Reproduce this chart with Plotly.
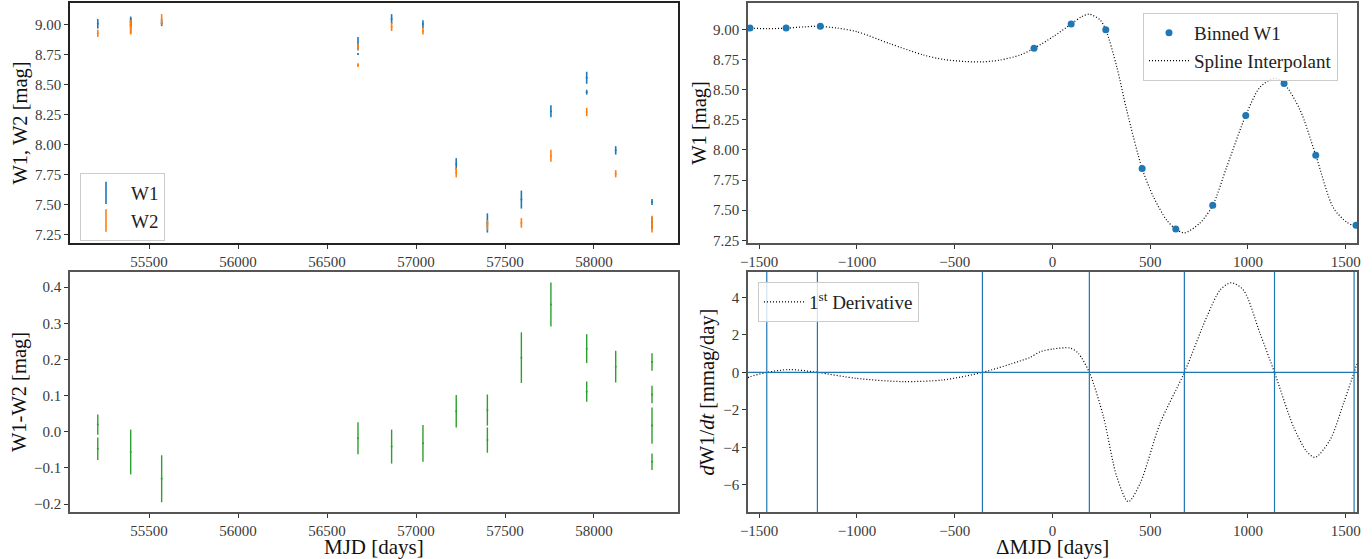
import plotly.graph_objects as go

# ---------------- data ----------------
# Top-left: single-exposure W1 / W2 magnitudes (segments per epoch)
w1_mjd = [55212, 55397, 55397, 55571, 56674, 56674, 56863, 57039, 57226, 57401,
          57592, 57758, 57959, 57959, 58122, 58326, 58326]
w1_mag = [9.01, 9.00, 9.025, 9.015, 8.845, 8.757, 9.05, 9.007, 7.84, 7.35,
          7.545, 8.28, 8.56, 8.44, 7.955, 7.525, 7.35]
w1_err = [0.04, 0.07, 0.035, 0.025, 0.055, 0.006, 0.04, 0.033, 0.05, 0.08,
          0.075, 0.05, 0.05, 0.02, 0.035, 0.025, 0.05]

w2_mjd = [55212, 55397, 55571, 56674, 56674, 56863, 57039, 57226, 57401, 57592,
          57758, 57959, 58122, 58326]
w2_mag = [8.93, 8.98, 9.045, 8.82, 8.665, 8.985, 8.948, 7.77, 7.332, 7.35,
          7.91, 8.275, 7.76, 7.34]
w2_err = [0.03, 0.06, 0.045, 0.03, 0.015, 0.035, 0.028, 0.04, 0.043, 0.04,
          0.05, 0.035, 0.03, 0.07]

# Bottom-left: W1-W2 colour
col_mjd = [55212, 55212, 55397, 55571, 56674, 56863, 57039, 57226, 57401, 57401,
           57592, 57758, 57959, 57959, 58122, 58326, 58326, 58326, 58326]
col_val = [0.02, -0.047, -0.056, -0.13, -0.018, -0.041, -0.032, 0.057, 0.06, -0.023,
           0.205, 0.352, 0.23, 0.111, 0.18, 0.193, 0.103, 0.017, -0.083]
col_err = [0.028, 0.031, 0.062, 0.065, 0.044, 0.047, 0.051, 0.045, 0.043, 0.035,
           0.07, 0.061, 0.04, 0.028, 0.044, 0.024, 0.024, 0.05, 0.023]

# Top-right: binned W1 vs ΔMJD
bin_dmjd = [-1547, -1362, -1187, -94, 96, 273, 459, 631, 820, 989, 1185, 1347, 1553]
bin_mag = [9.01, 9.01, 9.025, 8.842, 9.044, 8.997, 7.845, 7.344, 7.54, 8.286, 8.55, 7.956, 7.375]
bin_err = [0.006, 0.006, 0.006, 0.006, 0.006, 0.006, 0.006, 0.006, 0.006, 0.006, 0.006, 0.006, 0.006]

# Spline interpolant
spl_dmjd = [-1557, -1547, -1461, -1362, -1270, -1202, -1100, -1000, -830, -660, -557,
            -450, -358, -268, -165, -94, 5, 96, 150, 189, 244, 273, 329, 380, 459,
            517, 585, 631, 675, 755, 820, 892, 989, 1062, 1136, 1185, 1267, 1347,
            1437, 1506, 1543, 1557]
spl_mag = [9.01, 9.01, 9.005, 9.01, 9.02, 9.025, 9.01, 8.98, 8.88, 8.787, 8.75,
           8.733, 8.73, 8.745, 8.787, 8.842, 8.94, 9.044, 9.105, 9.125, 9.077, 8.997,
           8.69, 8.33, 7.845, 7.61, 7.416, 7.344, 7.312, 7.394, 7.54, 7.86, 8.286,
           8.52, 8.593, 8.55, 8.33, 7.956, 7.52, 7.40, 7.372, 7.375]

# Bottom-right: first derivative (mmag/day)
der_dmjd = [-1557, -1547, -1461, -1342, -1202, -1000, -763, -558, -358, -165, -114,
            -63, 4, 90, 132, 189, 261, 329, 388, 449, 551, 675, 790, 858, 914, 977,
            1062, 1136, 1233, 1301, 1344, 1420, 1489, 1543, 1557]
der_val = [-0.28, -0.23, 0.0, 0.15, 0.0, -0.32, -0.49, -0.40, 0.0, 0.61, 0.80,
           1.10, 1.25, 1.30, 1.02, 0.0, -2.36, -5.55, -6.89, -5.91, -2.71, 0.0, 2.97,
           4.39, 4.78, 4.39, 2.08, 0.0, -2.89, -4.22, -4.53, -3.6, -1.65, 0.0, 0.45]

# zero crossings of the derivative (vertical lines)
zero_dmjd = [-1461, -1202, -358, 189, 675, 1136, 1543]

C1, C2, C3 = "#1f77b4", "#ff7f0e", "#2ca02c"
FONT = "Liberation Serif"

fig = go.Figure()

# TL
fig.add_trace(go.Scatter(x=w1_mjd, y=w1_mag, mode="markers", xaxis="x", yaxis="y",
                         marker=dict(size=2, color=C1),
                         error_y=dict(type="data", array=w1_err, color=C1, thickness=1.6, width=0),
                         showlegend=False))
fig.add_trace(go.Scatter(x=w2_mjd, y=w2_mag, mode="markers", xaxis="x", yaxis="y",
                         marker=dict(size=2, color=C2),
                         error_y=dict(type="data", array=w2_err, color=C2, thickness=1.6, width=0),
                         showlegend=False))
fig.add_trace(go.Scatter(x=[None], y=[None], mode="markers", xaxis="x", yaxis="y", name="W1",
                         marker=dict(symbol="line-ns-open", size=20, color=C1, line=dict(color=C1, width=1.6)),
                         legend="legend"))
fig.add_trace(go.Scatter(x=[None], y=[None], mode="markers", xaxis="x", yaxis="y", name="W2",
                         marker=dict(symbol="line-ns-open", size=20, color=C2, line=dict(color=C2, width=1.6)),
                         legend="legend"))

# BL
fig.add_trace(go.Scatter(x=col_mjd, y=col_val, mode="markers", xaxis="x2", yaxis="y2",
                         marker=dict(size=2, color=C3),
                         error_y=dict(type="data", array=col_err, color=C3, thickness=1.4, width=0),
                         showlegend=False))

# TR
fig.add_trace(go.Scatter(x=spl_dmjd, y=spl_mag, mode="lines", xaxis="x3", yaxis="y3",
                         name="Spline Interpolant", legendrank=2,
                         line=dict(color="black", width=1.2, dash="1px,2px", shape="spline", smoothing=0.8),
                         legend="legend2"))
fig.add_trace(go.Scatter(x=bin_dmjd, y=bin_mag, mode="markers", xaxis="x3", yaxis="y3",
                         name="Binned W1", legendrank=1,
                         marker=dict(size=7, color=C1),
                         error_y=dict(type="data", array=bin_err, color=C1, thickness=1.5, width=0),
                         legend="legend2"))

# BR
fig.add_trace(go.Scatter(x=der_dmjd, y=der_val, mode="lines", xaxis="x4", yaxis="y4",
                         name="1<sup>st</sup> Derivative",
                         line=dict(color="black", width=1.2, dash="1px,2px", shape="spline", smoothing=0.8),
                         legend="legend3"))

shapes = []
for z in zero_dmjd:
    shapes.append(dict(type="line", xref="x4", yref="y4 domain", x0=z, x1=z, y0=0, y1=1,
                       line=dict(color=C1, width=1.2)))
shapes.append(dict(type="line", xref="x4 domain", yref="y4", x0=0, x1=1, y0=0, y1=0,
                   line=dict(color=C1, width=1.2)))

W, H = 1372, 559
def px(x): return x / W
def py(y): return 1 - y / H

tickfont = dict(family=FONT, size=15, color="#3a3a3a")
ytitlefont = dict(family=FONT, size=20.5, color="#111")
xtitlefont = dict(family=FONT, size=21, color="#111")

def ax(domain, rng, **kw):
    d = dict(domain=domain, range=rng, showgrid=False, zeroline=False, showline=True,
             linecolor="#555", linewidth=1.5, mirror=True, ticks="outside", ticklen=4,
             tickcolor="#333", tickwidth=1, tickfont=tickfont, automargin=False)
    d.update(kw)
    return d

xL = [px(70), px(678)]
xR = [px(748), px(1357)]
yT = [py(243), py(3)]
yB = [py(512), py(272)]

annotations = [
    dict(text="MJD [days]", xref="paper", yref="paper", x=(xL[0] + xL[1]) / 2, y=py(547),
         xanchor="center", yanchor="middle", showarrow=False, font=xtitlefont),
    dict(text="ΔMJD [days]", xref="paper", yref="paper", x=(xR[0] + xR[1]) / 2, y=py(547),
         xanchor="center", yanchor="middle", showarrow=False, font=xtitlefont),
]

fig.update_layout(
    width=W, height=H, margin=dict(l=0, r=0, t=0, b=0),
    paper_bgcolor="white", plot_bgcolor="white",
    font=dict(family=FONT, color="#222"),
    shapes=shapes, annotations=annotations,
    xaxis=ax(xL, [55056, 58472], anchor="y", tickmode="linear", tick0=55500, dtick=500,
             tickformat="d", linecolor="#222"),
    yaxis=ax(yT, [7.183, 9.183], anchor="x", tickmode="linear", tick0=7.25, dtick=0.25,
             tickformat=".2f", linecolor="#222",
             title=dict(text="W1, W2 [mag]", font=ytitlefont, standoff=2)),
    xaxis2=ax(xL, [55056, 58472], anchor="y2", tickmode="linear", tick0=55500, dtick=500, tickformat="d"),
    yaxis2=ax(yB, [-0.222, 0.442], anchor="x2", tickmode="linear", tick0=0, dtick=0.1,
              tickformat=".1f",
              title=dict(text="W1-W2 [mag]", font=ytitlefont, standoff=2)),
    xaxis3=ax(xR, [-1557, 1558], anchor="y3", tickmode="linear", tick0=0, dtick=500, tickformat="d"),
    yaxis3=ax(yT, [7.228, 9.218], anchor="x3", tickmode="linear", tick0=7.25, dtick=0.25,
              tickformat=".2f",
              title=dict(text="W1 [mag]", font=ytitlefont, standoff=1)),
    xaxis4=ax(xR, [-1557, 1558], anchor="y4", tickmode="linear", tick0=0, dtick=500, tickformat="d"),
    yaxis4=ax(yB, [-7.44, 5.35], anchor="x4", tickmode="linear", tick0=0, dtick=2,
              title=dict(text="<i>d</i>W1/<i>dt</i> [mmag/day]", font=ytitlefont, standoff=3)),
    legend=dict(x=px(80), y=py(173), xanchor="left", yanchor="top",
                bgcolor="rgba(255,255,255,0.8)", bordercolor="#ccc", borderwidth=1,
                itemwidth=40, font=dict(family=FONT, size=19, color="#222")),
    legend2=dict(x=px(1143), y=py(13), xanchor="left", yanchor="top",
                 bgcolor="rgba(255,255,255,0.8)", bordercolor="#ccc", borderwidth=1,
                 itemwidth=40, font=dict(family=FONT, size=19, color="#222")),
    legend3=dict(x=px(758), y=py(282), xanchor="left", yanchor="top",
                 bgcolor="rgba(255,255,255,0.8)", bordercolor="#ccc", borderwidth=1,
                 itemwidth=40, font=dict(family=FONT, size=19, color="#222")),
)

fig.write_html("out.html", config={"displayModeBar": False},
               post_script="document.body.style.margin='0';document.body.style.overflow='hidden';")
